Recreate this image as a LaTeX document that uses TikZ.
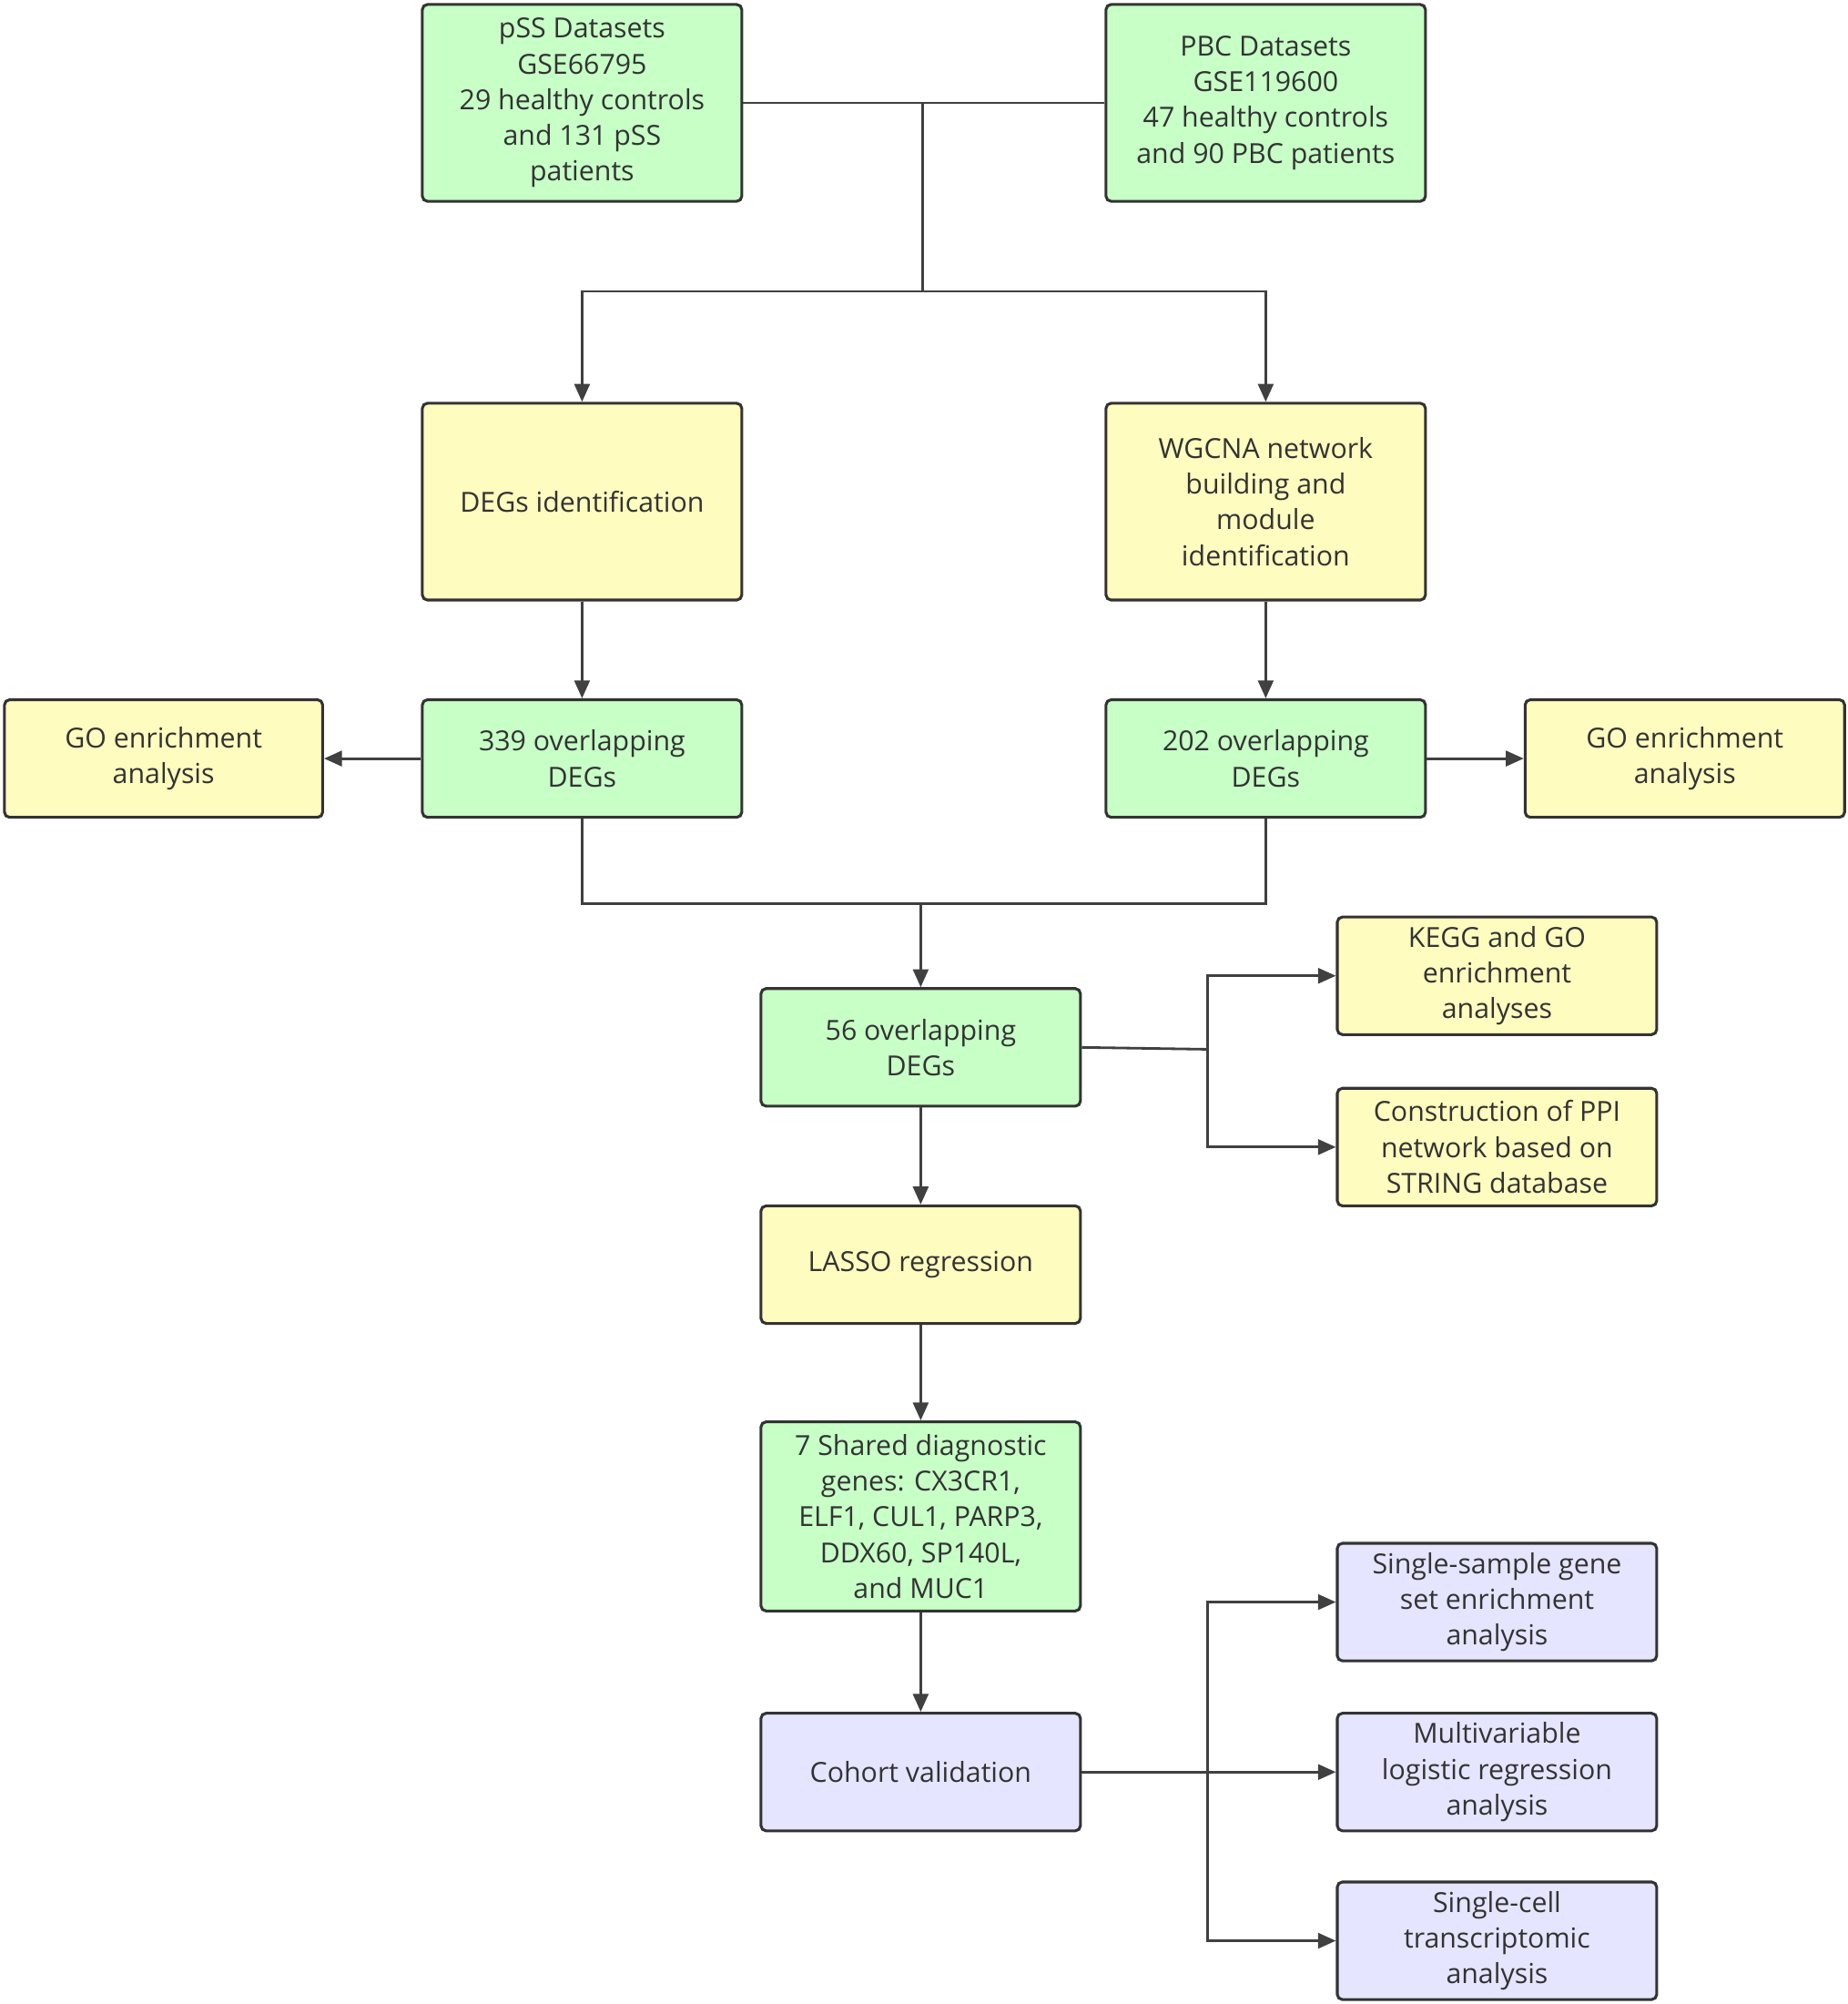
\documentclass[tikz,border=0pt]{standalone}
\usepackage{fontspec}
\setmainfont{Open Sans}
\usetikzlibrary{arrows.meta}
\begin{document}
\begin{tikzpicture}[x=0.5pt,y=-0.5pt,
 box/.style={draw=black!80,line width=1.1pt,rounded corners=2pt,align=center,inner sep=0pt,
   font=\fontsize{10.8}{14}\selectfont,text=black!80},
 g/.style={box,fill=green!22!white},
 yl/.style={box,fill=yellow!25!white},
 bl/.style={box,fill=blue!10!white},
 ln/.style={draw=black!75,line width=1pt},
 ar/.style={ln,-{Triangle[length=7pt,width=6pt]}}]
\useasboundingbox (0,0) rectangle (1446,1568);
\newcommand{\bx}[6]{\node[#1,minimum width=#4*0.5pt-0.5pt,minimum height=#5*0.5pt-0.5pt] (#2) at (#3) {#6};}
\bx{g}{pss}{455.5,80.5}{251}{155}{pSS Datasets\\GSE66795\\29 healthy controls\\and 131 pSS\\patients}
\bx{g}{pbc}{990.5,80.5}{251}{155}{PBC Datasets\\GSE119600\\47 healthy controls\\and 90 PBC patients}
\bx{yl}{deg}{455.5,392.5}{251}{155}{DEGs identification}
\bx{yl}{wg}{990.5,392.5}{251}{155}{WGCNA network\\building and\\module\\identification}
\bx{yl}{gol}{128,593.5}{250}{93}{GO enrichment\\analysis}
\bx{g}{o339}{455.5,593.5}{251}{93}{339 overlapping\\DEGs}
\bx{g}{o202}{990.5,593.5}{251}{93}{202 overlapping\\DEGs}
\bx{yl}{gor}{1318.5,593.5}{251}{93}{GO enrichment\\analysis}
\bx{g}{o56}{720.5,819.5}{251}{93}{56 overlapping\\DEGs}
\bx{yl}{kegg}{1171.5,763.5}{251}{93}{KEGG and GO\\enrichment\\analyses}
\bx{yl}{ppi}{1171.5,897.5}{251}{93}{Construction of PPI\\network based on\\STRING database}
\bx{yl}{lasso}{720.5,989.5}{251}{93}{LASSO regression}
\bx{g}{seven}{720.5,1186.5}{251}{149}{7 Shared diagnostic\\genes: CX3CR1,\\ELF1, CUL1, PARP3,\\DDX60, SP140L,\\and MUC1}
\bx{bl}{coh}{720.5,1386.5}{251}{93}{Cohort validation}
\bx{bl}{ss}{1171.5,1253.5}{251}{93}{Single-sample gene\\set enrichment\\analysis}
\bx{bl}{mv}{1171.5,1386.5}{251}{93}{Multivariable\\logistic regression\\analysis}
\bx{bl}{sc}{1171.5,1518.5}{251}{93}{Single-cell\\transcriptomic\\analysis}
\coordinate (j1) at (722,80.5);
\coordinate (j2) at (722,228);
\draw[ln] (pss.east) -- (pbc.west);
\draw[ln] (j1) -- (j2);
\draw[ar] (j2) -| (deg.north);
\draw[ar] (j2) -| (wg.north);
\draw[ar] (deg) -- (o339);
\draw[ar] (wg) -- (o202);
\draw[ar] (o339) -- (gol);
\draw[ar] (o202) -- (gor);
\coordinate (j3) at (720.5,707);
\draw[ln] (o339.south) |- (j3) -| (o202.south);
\draw[ar] (j3) -- (o56.north);
\coordinate (j4) at (945,821);
\draw[ln] (o56.east) -- (j4);
\draw[ar] (j4) |- (kegg.west);
\draw[ar] (j4) |- (ppi.west);
\draw[ar] (o56) -- (lasso);
\draw[ar] (lasso) -- (seven);
\draw[ar] (seven) -- (coh);
\draw[ar] (coh) -- (mv);
\coordinate (j5) at (945,1386.5);
\draw[ar] (j5) |- (ss.west);
\draw[ar] (j5) |- (sc.west);
\end{tikzpicture}
\end{document}
